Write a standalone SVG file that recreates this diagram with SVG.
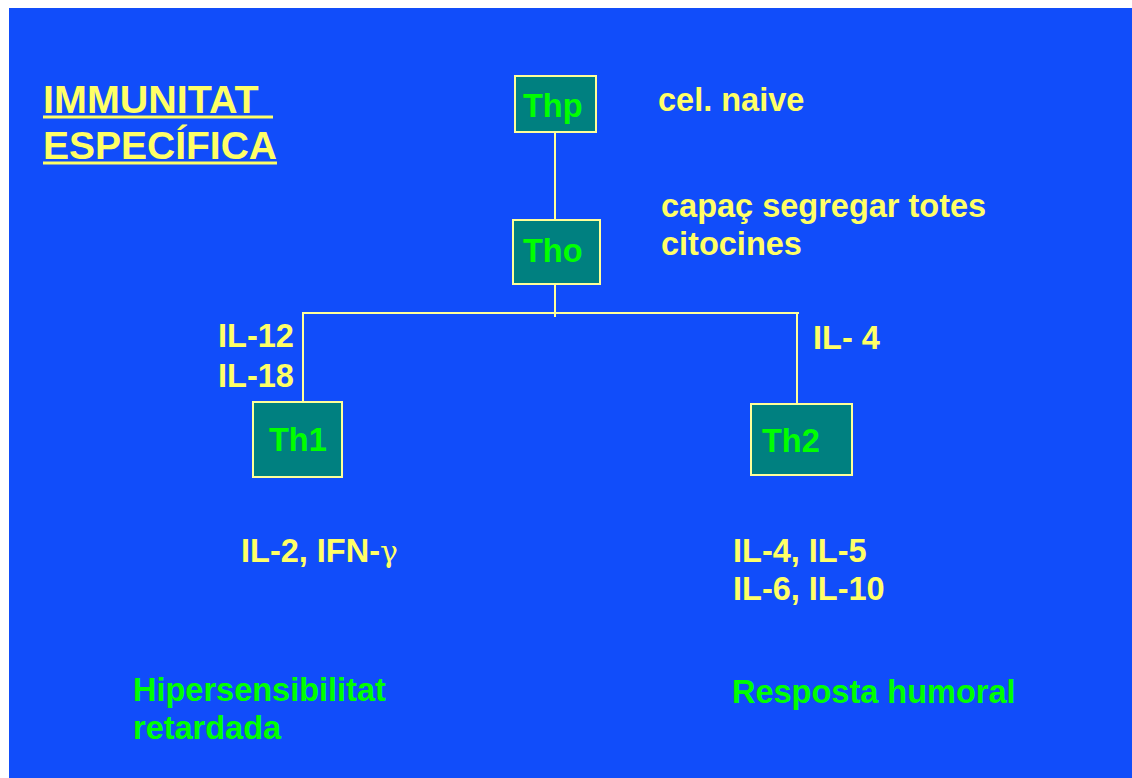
<svg xmlns="http://www.w3.org/2000/svg" width="1132" height="778" viewBox="0 0 1132 778">
<style>
.t{font-family:"Liberation Sans",Arial,sans-serif;font-weight:bold;font-size:32.5px}
.y{fill:#FFFF66}
.g{fill:#00FF00}
.box{fill:#008080;stroke:#FFFF99;stroke-width:2}
.lbl{font-family:"Liberation Sans",Arial,sans-serif;font-weight:bold;font-size:32.5px;fill:#00FF00}
.conn line{stroke:#FFFF99;stroke-width:2}
</style>
<rect x="0" y="0" width="1132" height="778" fill="#FFFFFF"/>
<rect x="9" y="8" width="1123" height="770" fill="#114DFA"/>
<g id="title">
<text x="43" y="113" class="t y" style="font-size:39.5px">IMMUNITAT</text>
<rect x="43" y="115.5" width="230" height="3" fill="#FFFF66"/>
<text x="43" y="159" class="t y" style="font-size:39px">ESPECÍFICA</text>
<rect x="43" y="161.5" width="234" height="3" fill="#FFFF66"/>
</g>
<g class="conn" id="connectors">
<line x1="555" y1="132" x2="555" y2="220"/>
<line x1="555" y1="280" x2="555" y2="317"/>
<line x1="302" y1="313" x2="799" y2="313"/>
<line x1="303" y1="313" x2="303" y2="402"/>
<line x1="797" y1="313" x2="797" y2="404"/>
</g>
<g id="node-thp">
<rect x="515" y="76" width="81" height="56" class="box"/>
<text x="523" y="117" class="lbl">Thp</text>
</g>
<g id="node-tho">
<rect x="513" y="220" width="87" height="64" class="box"/>
<text x="523" y="262" class="lbl">Tho</text>
</g>
<g id="node-th1">
<rect x="253" y="402" width="89" height="75" class="box"/>
<text x="269" y="451" class="lbl">Th1</text>
</g>
<g id="node-th2">
<rect x="751" y="404" width="101" height="71" class="box"/>
<text x="762" y="452" class="lbl">Th2</text>
</g>
<g id="labels">
<text x="658" y="111" class="t y">cel. naive</text>
<text x="661" y="217" class="t y">capaç segregar totes</text>
<text x="661" y="255" class="t y">citocines</text>
<text x="218" y="347" class="t y">IL-12</text>
<text x="218" y="387" class="t y">IL-18</text>
<text x="813" y="349" class="t y">IL- 4</text>
<text x="241" y="562" class="t y">IL-2, IFN-<tspan style="font-family:'DejaVu Serif','Liberation Serif',serif;font-weight:normal;font-size:30px">γ</tspan></text>
<text x="733" y="562" class="t y">IL-4, IL-5</text>
<text x="733" y="600" class="t y">IL-6, IL-10</text>
<text x="133" y="701" class="t g">Hipersensibilitat</text>
<text x="133" y="739" class="t g">retardada</text>
<text x="732" y="703" class="t g">Resposta humoral</text>
</g>
</svg>
